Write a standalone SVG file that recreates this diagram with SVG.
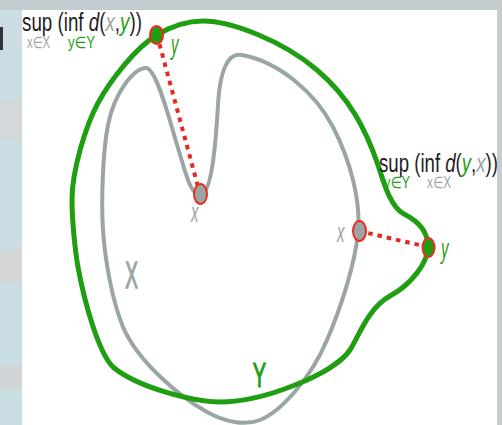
<svg xmlns="http://www.w3.org/2000/svg" width="502" height="425" viewBox="0 0 502 425">
  <style>
    .setY { fill: none; stroke: #1f9e12; stroke-width: 5; stroke-linecap: round; stroke-linejoin: round; }
    .setX { fill: none; stroke: #9aa5a5; stroke-width: 4; stroke-linecap: round; stroke-linejoin: round; }
    .dist { stroke: #e8271f; stroke-width: 4; stroke-dasharray: 4.5 5; fill: none; }
    .ptX { fill: #9aa5a5; stroke: #ee2a22; stroke-width: 2; }
    .ptY { fill: #1f9e12; stroke: #ee2a22; stroke-width: 2; }
    .f { font-family: "Liberation Sans", Arial, "DejaVu Sans", sans-serif; }
    .blk { fill: #1e1e1e; }
    .gry { fill: #9aa5a5; }
    .grn { fill: #1f9e12; }
    .it { font-style: italic; }
    .big { stroke-width: 0.7; }
  </style>

  <!-- background -->
  <g id="background">
    <rect x="0" y="0" width="502" height="425" fill="#c9dde3"/>
    <rect x="0" y="0" width="502" height="10" fill="#c3ccd0"/>
    <rect x="0" y="100" width="22" height="40" fill="#d3d8da"/>
    <rect x="0" y="250" width="22" height="33" fill="#d3d5d6"/>
    <rect x="0" y="365" width="22" height="25" fill="#d0d6d8"/>
    <rect x="0" y="27" width="3" height="23" fill="#333"/>
    <rect x="497" y="0" width="5" height="425" fill="#c8cccd"/>
    <rect x="22" y="10" width="475" height="415" fill="#ffffff"/>
  </g>

  <!-- set X (gray) -->
  <g id="set-X">
    <path class="setX" d="M 200 195 C 190 195, 185 170, 178 148 C 171 126, 157 68, 146 68 C 135 68, 115 90, 108 125 C 103 150, 101 200, 103 230 C 105 260, 112 300, 123 327 C 138 362, 180 397, 207 412 C 225 422, 245 426, 260 420 C 280 412, 310 380, 327 340 C 340 310, 355 265, 358 232 C 361 200, 350 160, 333 127 C 316 94, 280 62, 242 55 C 228 52, 220 70, 218 105 C 216 140, 212 195, 200 195 Z"/>
    <text class="f gry big" stroke="#9aa5a5" font-size="19" text-anchor="middle" transform="translate(131.5,288) scale(1,1.9)">X</text>
  </g>

  <!-- set Y (green) -->
  <g id="set-Y">
    <path class="setY" d="M 157 35 C 170 27, 185 21, 203 21 C 230 21, 282 40, 317 70 C 350 98, 366 130, 378 165 C 383 180, 390 207, 404 214 C 418 221, 428 232, 428 247 C 428 262, 412 284, 390 296 C 368 308, 358 338, 350 350 C 342 362, 320 375, 295 385 C 270 395, 245 402, 220 402 C 195 402, 138 388, 113 367 C 98 352, 84 300, 78 267 C 75 250, 72 220, 72 200 C 72 170, 86 125, 98 103 C 110 81, 135 48, 157 35 Z"/>
    <text class="f grn big" stroke="#1f9e12" font-size="20" text-anchor="middle" transform="translate(259.5,387) scale(1,1.75)">Y</text>
  </g>

  <!-- connectors: distances -->
  <g id="connectors">
    <line class="dist" x1="157" y1="35" x2="200" y2="194"/>
    <line class="dist" x1="359" y1="231" x2="428" y2="247"/>
  </g>

  <!-- points -->
  <g id="pt-y-top">
    <ellipse class="ptY" cx="156.5" cy="35" rx="6.5" ry="9"/>
    <text class="f grn it" font-size="15" transform="translate(171,54) scale(1,1.9)">y</text>
  </g>
  <g id="pt-x-valley">
    <ellipse class="ptX" cx="200.5" cy="194" rx="6.5" ry="10"/>
    <text class="f gry it" font-size="15" transform="translate(191,222) scale(1,1.9)">x</text>
  </g>
  <g id="pt-x-right">
    <ellipse class="ptX" cx="359.5" cy="231" rx="6.5" ry="10"/>
    <text class="f gry it" font-size="15" transform="translate(337,242) scale(1,1.9)">x</text>
  </g>
  <g id="pt-y-right">
    <ellipse class="ptY" cx="428.5" cy="247.5" rx="6" ry="9.5"/>
    <text class="f grn it" font-size="15" transform="translate(441,258) scale(1,1.9)">y</text>
  </g>

  <!-- formulas -->
  <g id="formula-top">
    <text class="f blk" font-size="18.5" transform="translate(22,31) scale(1,1.35)" textLength="120" lengthAdjust="spacingAndGlyphs">sup (inf <tspan class="it">d</tspan>(<tspan class="gry it">x</tspan>,<tspan class="grn it">y</tspan>))</text>
    <text class="f gry" font-size="13.5" transform="translate(27,48) scale(1,1.2)" textLength="23" lengthAdjust="spacingAndGlyphs">x∈X</text>
    <text class="f grn" font-size="13.5" transform="translate(68,48) scale(1,1.2)" textLength="27" lengthAdjust="spacingAndGlyphs">y∈Y</text>
  </g>
  <g id="formula-right">
    <text class="f blk" font-size="18.5" transform="translate(379,172) scale(1,1.35)" textLength="119" lengthAdjust="spacingAndGlyphs">sup (inf <tspan class="it">d</tspan>(<tspan class="grn it">y</tspan>,<tspan class="gry it">x</tspan>))</text>
    <text class="f grn" font-size="13.5" transform="translate(384,188) scale(1,1.2)" textLength="26" lengthAdjust="spacingAndGlyphs">y∈Y</text>
    <text class="f gry" font-size="13.5" transform="translate(427,188) scale(1,1.2)" textLength="24" lengthAdjust="spacingAndGlyphs">x∈X</text>
  </g>
</svg>
